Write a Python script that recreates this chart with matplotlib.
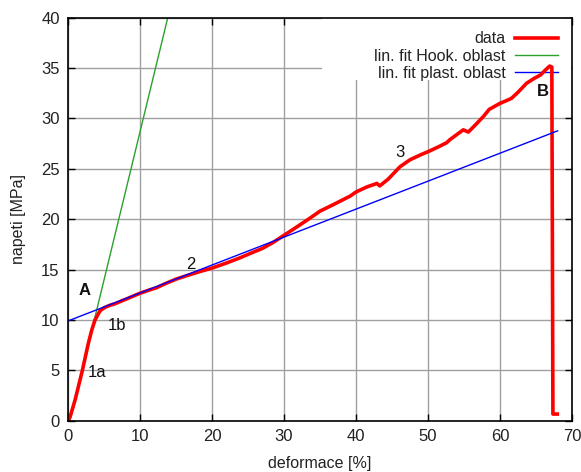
import matplotlib
matplotlib.use("Agg")
import matplotlib.pyplot as plt
import numpy as np
from matplotlib.patches import Rectangle

plt.rcParams['font.family'] = ['Liberation Sans', 'DejaVu Sans']

# measured stress-strain data
strain = [0.05, 0.3, 1.0, 2.0, 2.8, 3.3, 3.75, 4.44, 4.9, 5.3,
          5.8, 6.5, 7.5, 8.5, 10.0, 11.4, 12.3, 13.5, 15.0, 16.5, 18.3, 20.0, 22.0,
          24.0, 25.3, 27.0, 28.5, 30.0, 31.5, 33.6, 35.0, 37.0, 39.2, 40.0, 41.5,
          42.9, 43.3, 44.5, 46.1, 47.5, 49.0, 50.0, 51.5, 52.6, 53.05, 54.0, 54.9,
          55.6, 56.5, 57.7, 58.5, 60.0, 61.0, 61.6, 62.5, 63.7, 64.8, 65.6, 66.3,
          66.9, 67.2, 67.35, 67.96]
stress = [0.0, 0.4, 2.1, 5.0, 7.6, 9.0, 10.0, 10.9, 11.15, 11.3,
          11.45, 11.6, 11.9, 12.2, 12.65, 13.0, 13.2, 13.6, 14.05, 14.4, 14.8, 15.15, 15.65,
          16.2, 16.6, 17.1, 17.7, 18.4, 19.1, 20.1, 20.8, 21.5, 22.3, 22.7, 23.2,
          23.55, 23.3, 24.0, 25.2, 25.9, 26.4, 26.7, 27.2, 27.6, 27.9, 28.4, 28.87,
          28.65, 29.3, 30.2, 30.9, 31.5, 31.8, 32.0, 32.6, 33.5, 34.0, 34.3, 34.8,
          35.2, 35.1, 0.66, 0.66]

# linear fits
hook_slope, hook_x0, hook_x1 = 2.94, 0.25, 14.0
plast_slope, plast_intercept, plast_x1 = 0.2775, 9.9, 68.0

xticks = [0, 10, 20, 30, 40, 50, 60, 70]
yticks = [0, 5, 10, 15, 20, 25, 30, 35, 40]

labels = [("A", 2.36, 12.9, "bold"), ("1a", 4.1, 4.8, "normal"), ("1b", 6.85, 9.4, "normal"),
          ("2", 17.0, 15.5, "normal"), ("3", 46.1, 26.6, "normal"), ("B", 65.9, 32.7, "bold")]

fig = plt.figure(figsize=(5.81, 4.72), dpi=100)
ax = fig.add_axes([68/581, 1-420.7/472, 504/581, 403/472])

hx = np.linspace(hook_x0, hook_x1, 50)
px = np.linspace(0, plast_x1, 50)
ax.plot(strain, stress, color='red', lw=2.6, label='data', zorder=4)
ax.plot(hx, hook_slope*(hx-hook_x0), color='#2ca02c', lw=1, label='lin. fit Hook. oblast', zorder=3)
ax.plot(px, plast_intercept + plast_slope*px, color='blue', lw=1, label='lin. fit plast. oblast', zorder=5)

ax.set_xlim(0, 70)
ax.set_ylim(0, 40)
ax.set_xticks(xticks)
ax.set_yticks(yticks)
ax.grid(True, color='#a0a0a0', lw=1)
ax.set_axisbelow(True)
ax.tick_params(direction='in', length=5, width=1, top=True, right=True,
               labelsize=12, labelcolor='#222222', pad=6)
for s in ax.spines.values():
    s.set_linewidth(1.2)
    s.set_zorder(6)

ax.add_patch(Rectangle((0.504, 0.845), 0.496, 0.155, transform=ax.transAxes,
                       facecolor='white', edgecolor='none', zorder=1))

for t, x, y, w in labels:
    ax.text(x, y, t, fontsize=12, fontweight=w, ha='center', va='center', color='#111111', zorder=7)

leg = ax.legend(loc='upper right', frameon=False, markerfirst=False, fontsize=11.5,
                handlelength=2.7, handletextpad=0.6, labelspacing=0.15,
                borderaxespad=0.5, borderpad=0.35)
for txt in leg.get_texts():
    txt.set_color('#222222')
leg.set_zorder(2)

ax.set_xlabel('deformace [%]', fontsize=11.5, color='#222222')
ax.set_ylabel('napeti [MPa]', fontsize=11.5, color='#222222')
ax.xaxis.set_label_coords(0.5, -0.088)
ax.yaxis.set_label_coords(-0.083, 0.5)

fig.savefig('out.png', dpi=100)
